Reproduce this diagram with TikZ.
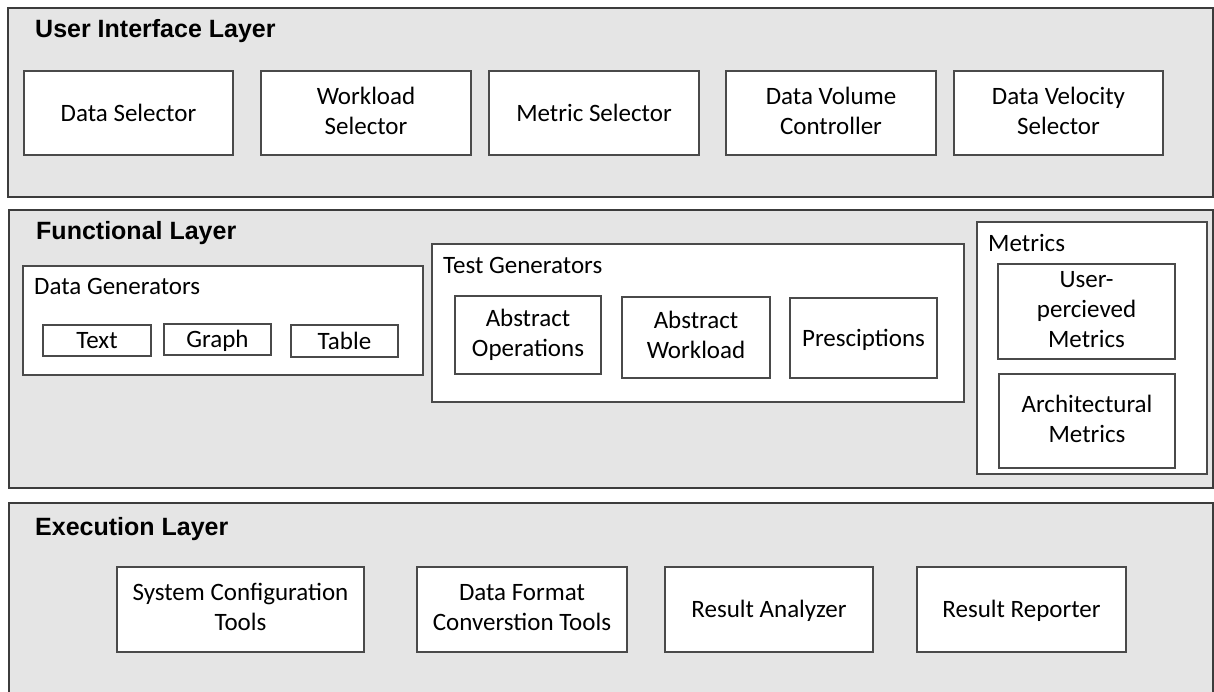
\documentclass[tikz,border=0pt]{standalone}
\usepackage{fontspec}
\setmainfont{Carlito}
\newfontfamily\titlefont{Liberation Sans}
\definecolor{layergray}{HTML}{E5E5E5}
\definecolor{layerline}{HTML}{3C3C3C}
\definecolor{boxline}{HTML}{4A4A4A}
\newcommand\mytopstrut{\rule{0pt}{21pt}}
\newcommand\mybotstrut{\rule[-5pt]{0pt}{5pt}}
\tikzset{
  layerbox/.style={draw=layerline, fill=layergray, line width=1.4pt, inner sep=0pt},
  plainbox/.style={draw=boxline, fill=white, line width=1.2pt, inner sep=0pt, align=center,
    font=\fontsize{25}{30}\selectfont,
    execute at begin node=\mytopstrut, execute at end node=\mybotstrut},
  groupbox/.style={draw=boxline, fill=white, line width=1.2pt, inner sep=0pt},
  layertitle/.style={font=\titlefont\bfseries\fontsize{25}{30}\selectfont, anchor=base west, inner sep=0pt},
  grouplabel/.style={font=\fontsize{25}{30}\selectfont, anchor=base west, inner sep=0pt},
}
% \bx[style]{name}{x1}{y1}{x2}{y2}{text}
\newcommand\bx[7][plainbox]{%
  \node[#1, minimum width={(#5-#3)*1pt}, minimum height={(#6-#4)*1pt}]
    (#2) at ({(#3+#5)/2},{(#4+#6)/2}) {#7};}
\begin{document}
\begin{tikzpicture}[x=1pt,y=-1pt]
\clip (0,0) rectangle (1214,691);
\useasboundingbox (0,0) rectangle (1214,691);

% User Interface Layer
\bx[layerbox]{uil}{8}{8}{1213}{197}{}
\node[layertitle] (uiltitle) at (35,37) {User Interface Layer};
\bx{dsel}{24}{71}{233}{155}{Data Selector}
\bx{wsel}{261}{71}{471}{155}{Workload\\Selector}
\bx{msel}{489}{71}{699}{155}{Metric Selector}
\bx{dvc}{726}{71}{936}{155}{Data Volume\\Controller}
\bx{dvs}{954}{71}{1163}{155}{Data Velocity\\Selector}

% Functional Layer
\bx[layerbox]{fl}{9}{210}{1213}{488}{}
\node[layertitle] (fltitle) at (36,239) {Functional Layer};

\bx[groupbox]{dgen}{23}{266}{423}{375}{}
\node[grouplabel] (dgentitle) at (34,294) {Data Generators};
\bx{txt}{43}{325}{151}{356}{Text}
\bx{grph}{164}{324}{271}{355}{Graph}
\bx{tbl}{291}{325}{398}{357}{Table}

\bx[groupbox]{tgen}{432}{244}{964}{402}{}
\node[grouplabel] (tgentitle) at (443,273) {Test Generators};
\bx{aop}{455}{296}{601}{374}{Abstract\\Operations}
\bx{awl}{622}{297}{770}{378}{Abstract\\Workload}
\bx{pres}{790}{298}{937}{378}{Presciptions}

\bx[groupbox]{met}{977}{222}{1207}{474}{}
\node[grouplabel] (mettitle) at (988,251) {Metrics};
\bx{upm}{998}{264}{1175}{359}{User-\\percieved\\Metrics}
\bx{arm}{999}{374}{1175}{468}{Architectural\\Metrics}

% Execution Layer
\bx[layerbox]{el}{9}{503}{1213}{710}{}
\node[layertitle] (eltitle) at (35,535) {Execution Layer};
\bx{sct}{117}{567}{364}{652}{System Configuration\\Tools}
\bx{dfc}{417}{567}{627}{652}{Data Format\\Converstion Tools}
\bx{ran}{665}{567}{873}{652}{Result Analyzer}
\bx{rrep}{917}{567}{1126}{652}{Result Reporter}
\end{tikzpicture}
\end{document}
